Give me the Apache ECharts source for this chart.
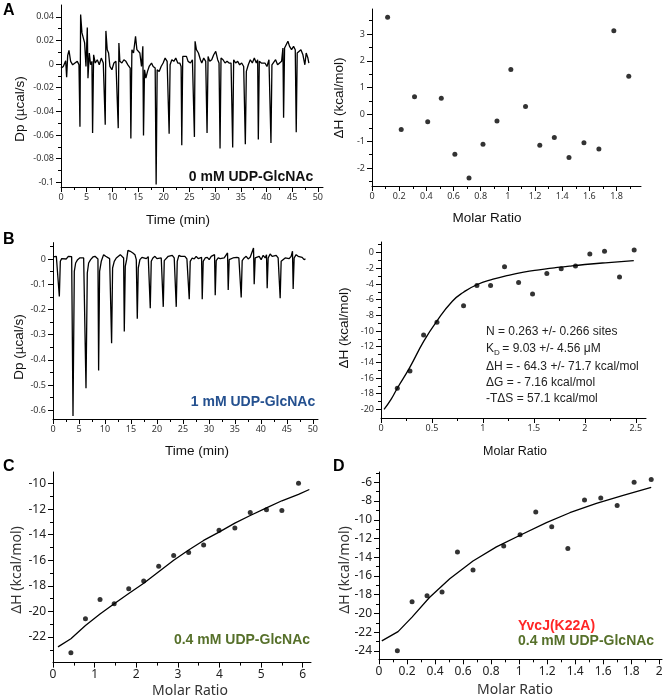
<!DOCTYPE html>
<html><head><meta charset="utf-8">
<script src="https://cdn.jsdelivr.net/npm/echarts@6/dist/echarts.min.js"></script>
<style>html,body{margin:0;padding:0;background:#fff}#c{width:669px;height:700px}</style>
</head><body><div id="c"></div>
<script>
// ---------- DATA ----------
// Panel A (0 mM UDP-GlcNAc): raw thermogram [time (min), Dp (µcal/s)]
const aTrace = [[0,-0.0034],[0.45,-0.0020],[0.91,0.0028],[1.10,-0.0111],[1.30,0.0071],[1.55,0.0116],[1.88,0.0023],[2.27,-0.0006],[2.72,0.0009],[3.17,0.0023],[3.50,-0.0006],[3.69,-0.0530],[3.82,0.0420],[4.08,0.0264],[4.34,0.0278],[4.60,0.0179],[4.86,-0.0020],[5.12,0.0309],[5.25,-0.0119],[5.51,0.0094],[5.76,-0.0006],[6.02,0.0023],[6.15,-0.0582],[6.35,0.0079],[6.67,0.0009],[7.06,0.0037],[7.45,-0.0006],[7.84,0.0051],[8.23,0.0009],[8.48,0.0023],[8.61,-0.0513],[8.74,0.0281],[9.00,0.0122],[9.26,0.0094],[9.52,-0.0020],[9.91,-0.0048],[10.30,0.0009],[10.69,0.0023],[11.01,0.0037],[11.14,-0.0542],[11.27,0.0179],[11.46,0.0023],[11.85,0.0009],[12.24,0.0037],[12.63,0.0023],[13.02,-0.0006],[13.28,-0.0020],[13.47,-0.0034],[13.60,-0.0630],[13.80,0.0122],[14.12,0.0094],[14.51,0.0235],[14.77,0.0122],[15.09,0.0136],[15.35,0.0094],[15.67,-0.0020],[15.93,0.0150],[16.06,-0.0604],[16.26,-0.0048],[16.52,-0.0119],[16.84,-0.0062],[17.16,-0.0020],[17.62,0.0009],[17.94,-0.0020],[18.33,-0.0034],[18.52,-0.1018],[18.72,-0.0048],[19.11,-0.0062],[19.49,-0.0020],[19.88,0.0009],[20.27,0.0051],[20.66,0.0023],[20.92,0.0009],[21.05,-0.0590],[21.24,-0.0006],[21.57,0.0037],[21.96,0.0023],[22.34,0.0051],[22.73,0.0009],[23.12,0.0009],[23.38,-0.0020],[23.51,-0.0687],[23.70,0.0065],[24.03,0.0051],[24.42,0.0065],[24.74,0.0023],[25.19,0.0009],[25.58,0.0037],[25.84,0.0023],[25.97,-0.0616],[26.10,0.0193],[26.36,0.0122],[26.75,0.0094],[27.14,0.0037],[27.40,0.0009],[27.78,0.0051],[28.17,0.0023],[28.43,-0.0582],[28.63,0.0065],[28.95,0.0023],[29.34,0.0037],[29.73,0.0079],[30.12,0.0108],[30.50,0.0037],[30.76,0.0009],[30.96,-0.0715],[31.15,0.0051],[31.54,0.0037],[31.93,0.0009],[32.32,0.0023],[32.71,0.0009],[33.10,0.0009],[33.29,0.0023],[33.42,-0.0706],[33.61,0.0037],[34.00,0.0009],[34.39,0.0023],[34.78,-0.0006],[35.17,0.0009],[35.56,-0.0020],[35.75,-0.0006],[35.88,-0.0678],[36.08,-0.0062],[36.46,-0.0006],[36.85,0.0037],[37.24,0.0009],[37.63,0.0051],[38.02,0.0009],[38.28,0.0037],[38.41,-0.0638],[38.60,0.0023],[38.99,0.0009],[39.31,-0.0006],[39.70,0.0009],[40.09,-0.0020],[40.48,0.0037],[40.74,0.0037],[40.87,-0.0667],[41.06,-0.0006],[41.39,0.0009],[41.77,0.0037],[42.16,-0.0006],[42.55,0.0009],[42.94,0.0023],[43.20,0.0136],[43.33,-0.0454],[43.52,0.0136],[43.85,0.0150],[44.17,0.0193],[44.49,0.0150],[44.88,0.0122],[45.27,0.0150],[45.60,0.0122],[45.79,-0.0576],[45.98,0.0094],[46.31,0.0094],[46.70,0.0122],[47.09,0.0079],[47.47,-0.0006],[47.73,0.0094],[48.06,0.0051],[48.25,0.0009]];
// Panel A: integrated heats [molar ratio, ΔH kcal/mol]
const aHeats = [[0.115,3.62],[0.215,-0.56],[0.313,0.66],[0.41,-0.27],[0.51,0.6],[0.61,-1.49],[0.714,-2.37],[0.817,-1.11],[0.92,-0.25],[1.022,1.67],[1.13,0.29],[1.235,-1.15],[1.342,-0.86],[1.45,-1.61],[1.56,-1.06],[1.67,-1.29],[1.78,3.12],[1.89,1.42]];

// Panel B (1 mM UDP-GlcNAc): raw thermogram
const bTrace = [[0,0.008],[0.32,0.004],[0.64,0.0106],[0.96,0.004],[1.22,-0.149],[1.41,-0.0093],[1.67,0.0013],[2.05,0.0066],[2.56,0],[2.95,0.0106],[3.33,0.0066],[3.59,0.0093],[3.72,0.0172],[3.85,-0.623],[4.10,-0.0491],[4.36,-0.0159],[4.74,-0.0027],[5.13,0.004],[5.51,0.0066],[5.90,0.004],[6.15,-0.0027],[6.35,-0.513],[6.60,-0.0557],[6.86,-0.0159],[7.24,-0.0027],[7.69,0.008],[8.08,0.0106],[8.46,0.004],[8.65,0],[8.78,-0.443],[8.97,-0.0491],[9.29,-0.0093],[9.74,0.0172],[10.13,0.0106],[10.51,0.0106],[10.90,0.0013],[11.15,-0.0027],[11.28,-0.334],[11.47,-0.0358],[11.79,-0.0093],[12.18,0.004],[12.56,0.0106],[12.95,0.0172],[13.33,0.0133],[13.59,0.004],[13.72,-0.288],[13.91,-0.0292],[14.17,-0.0027],[14.42,0.0345],[14.87,0.0305],[15.38,0.0239],[15.77,0.0172],[16.03,-0.0027],[16.22,-0.237],[16.41,-0.0358],[16.73,-0.0027],[17.12,0.0066],[17.50,0.0106],[17.95,0.0013],[18.33,0.0093],[18.59,0.0172],[18.72,-0.195],[18.91,-0.0093],[19.23,0.004],[19.62,0.0106],[20.00,0.0013],[20.38,0.0066],[20.83,0.004],[21.09,0.0093],[21.22,-0.19],[21.41,-0.0066],[21.79,0.0013],[22.18,0.0106],[22.56,0.004],[22.95,0.0146],[23.33,0.004],[23.59,0.0066],[23.72,-0.19],[23.91,-0.0093],[24.23,0.0146],[24.62,0.0106],[25.00,0.004],[25.38,0.0106],[25.77,0],[26.09,0.0066],[26.22,-0.16],[26.41,-0.0093],[26.79,0.004],[27.18,0],[27.56,0.0106],[27.95,0.0013],[28.33,0.004],[28.59,0.0066],[28.72,-0.16],[28.91,-0.0093],[29.29,0.004],[29.68,0.0066],[30.06,-0.0027],[30.45,0.0106],[30.83,0.004],[31.09,0.0172],[31.22,-0.144],[31.41,-0.0066],[31.79,0.004],[32.18,0.0013],[32.56,-0.0027],[32.95,0.004],[33.33,0.0013],[33.59,0.0239],[33.72,-0.123],[33.91,-0.0027],[34.29,0],[34.62,0.004],[35.00,-0.0027],[35.38,0.0066],[35.77,0.004],[36.09,0.0106],[36.22,-0.153],[36.41,-0.0066],[36.79,0.004],[37.18,0.0106],[37.56,0],[37.95,0.0066],[38.33,0.004],[38.59,0.0438],[38.72,-0.1],[38.91,0.004],[39.29,0.0066],[39.68,0.0106],[40.06,-0.0027],[40.45,0.0146],[40.83,0.004],[41.09,0.0172],[41.22,-0.116],[41.41,0.004],[41.79,0.0199],[42.18,0.0106],[42.56,0.0066],[42.95,0.0146],[43.33,0.004],[43.59,0],[43.72,-0.156],[43.91,-0.0093],[44.29,-0.0027],[44.68,0.004],[45.06,-0.0027],[45.45,0.0013],[45.83,0.0106],[46.09,0.0305],[46.22,-0.119],[46.41,0.004],[46.79,0.0172],[47.18,0.0106],[47.56,0.004],[47.95,0.0066],[48.33,-0.0027],[48.59,0.0013]];
const bHeats = [[0.16,-17.3],[0.284,-15.1],[0.418,-10.5],[0.549,-8.9],[0.81,-6.77],[0.941,-4.2],[1.075,-4.2],[1.212,-1.8],[1.35,-3.81],[1.487,-5.27],[1.627,-2.66],[1.768,-2.06],[1.908,-1.71],[2.049,-0.17],[2.193,0.17],[2.34,-3.13],[2.484,0.34]];
const bFit = [[0.03,-20.0],[0.1,-18.7],[0.16,-17.3],[0.28,-14.7],[0.42,-11.3],[0.55,-8.7],[0.7,-6.2],[0.81,-5.05],[0.94,-4.1],[1.1,-3.4],[1.25,-2.9],[1.4,-2.5],[1.55,-2.2],[1.7,-1.95],[1.85,-1.72],[2.0,-1.52],[2.2,-1.3],[2.48,-1.03]];
const bParams = ['N = 0.263 +/- 0.266 sites', ' = 9.03 +/- 4.56 \u03bcM', '\u0394H = - 64.3 +/- 71.7 kcal/mol', '\u0394G = - 7.16 kcal/mol', '-T\u0394S = 57.1 kcal/mol'];

// Panel C (0.4 mM UDP-GlcNAc)
const cHeats = [[0.43,-23.23],[0.78,-20.57],[1.13,-19.06],[1.47,-19.4],[1.82,-18.22],[2.18,-17.62],[2.54,-16.47],[2.9,-15.63],[3.26,-15.4],[3.62,-14.8],[3.99,-13.65],[4.37,-13.47],[4.74,-12.27],[5.13,-12.06],[5.5,-12.11],[5.9,-9.97]];
const cFit = [[0.12,-22.77],[0.43,-22.13],[0.78,-21.1],[1.13,-20.2],[1.47,-19.4],[1.82,-18.6],[2.18,-17.8],[2.54,-16.9],[2.9,-16.0],[3.26,-15.2],[3.62,-14.45],[3.99,-13.8],[4.37,-13.1],[4.74,-12.5],[5.13,-11.9],[5.5,-11.35],[5.9,-10.85],[6.16,-10.47]];

// Panel D (YvcJ(K22A), 0.4 mM UDP-GlcNAc)
const dHeats = [[0.131,-24.0],[0.236,-18.76],[0.343,-18.12],[0.45,-17.72],[0.56,-13.45],[0.671,-15.37],[0.89,-12.8],[1.007,-11.6],[1.119,-9.17],[1.233,-10.74],[1.348,-13.06],[1.467,-7.89],[1.583,-7.67],[1.7,-8.49],[1.821,-6.0],[1.943,-5.71]];
const dFit = [[0.02,-22.93],[0.136,-21.95],[0.236,-20.4],[0.36,-18.3],[0.505,-16.3],[0.671,-14.4],[0.838,-12.9],[1.007,-11.65],[1.195,-10.3],[1.362,-9.25],[1.552,-8.25],[1.743,-7.4],[1.943,-6.55]];

// Tick values
const timeTicks = [0,5,10,15,20,25,30,35,40,45,50];
const timeMinor = [2.5,7.5,12.5,17.5,22.5,27.5,32.5,37.5,42.5,47.5];
const aDpTicks = [0.04,0.02,0,-0.02,-0.04,-0.06,-0.08,-0.1];
const aDpMinor = [0.03,0.01,-0.01,-0.03,-0.05,-0.07,-0.09];
const aRatioTicks = [0,0.2,0.4,0.6,0.8,1,1.2,1.4,1.6,1.8];
const aRatioMinor = [0.1,0.3,0.5,0.7,0.9,1.1,1.3,1.5,1.7,1.9];
const aHeatTicks = [-2,-1,0,1,2,3];
const aHeatMinor = [-2.5,-1.5,-0.5,0.5,1.5,2.5,3.5];
const bDpTicks = [0,-0.1,-0.2,-0.3,-0.4,-0.5,-0.6];
const bDpMinor = [0.05,-0.05,-0.15,-0.25,-0.35,-0.45,-0.55];
const bRatioTicks = [0,0.5,1,1.5,2,2.5];
const bRatioMinor = [0.25,0.75,1.25,1.75,2.25];
const bHeatTicks = [0,-2,-4,-6,-8,-10,-12,-14,-16,-18,-20];
const bHeatMinor = [1,-1,-3,-5,-7,-9,-11,-13,-15,-17,-19];
const cRatioTicks = [0,1,2,3,4,5,6];
const cRatioMinor = [0.5,1.5,2.5,3.5,4.5,5.5];
const cHeatTicks = [-22,-20,-18,-16,-14,-12,-10];
const cHeatMinor = [-23,-21,-19,-17,-15,-13,-11];
const dRatioTicks = [0,0.2,0.4,0.6,0.8,1,1.2,1.4,1.6,1.8,2];
const dRatioMinor = [0.1,0.3,0.5,0.7,0.9,1.1,1.3,1.5,1.7,1.9];
const dHeatTicks = [-24,-22,-20,-18,-16,-14,-12,-10,-8,-6];
const dHeatMinor = [-23,-21,-19,-17,-15,-13,-11,-9,-7,-5];

// ---------- CHART ----------
const chart = echarts.init(document.getElementById('c'), null, {renderer:'canvas', width:669, height:700});
const fmt = v => String(Math.round(v*1000)/1000);
const grids = [
  {left:61, top:5, width:262, height:182},
  {left:372, top:9, width:269, height:177},
  {left:53, top:242.6, width:265, height:176.4},
  {left:381, top:242, width:265, height:176},
  {left:53, top:472, width:258, height:190.6},
  {left:379, top:472, width:283, height:187.3}
];
const smallLbl = {fontSize:9, color:'#333', fontFamily:'Noto Sans'};
const bigLbl = {fontSize:12, color:'#222', fontFamily:'Noto Sans'};
const spec = [
  {x:[0,51,timeTicks,timeMinor], y:[-0.104,0.05,aDpTicks,aDpMinor], lbl:smallLbl},
  {x:[0,1.98,aRatioTicks,aRatioMinor], y:[-2.67,3.93,aHeatTicks,aHeatMinor], lbl:smallLbl},
  {x:[0,51,timeTicks,timeMinor], y:[-0.635,0.065,bDpTicks,bDpMinor], lbl:smallLbl},
  {x:[0,2.6,bRatioTicks,bRatioMinor], y:[-21.1,1.35,bHeatTicks,bHeatMinor], lbl:smallLbl},
  {x:[0,6.2,cRatioTicks,cRatioMinor], y:[-24,-9.1,cHeatTicks,cHeatMinor], lbl:bigLbl},
  {x:[0,2.02,dRatioTicks,dRatioMinor], y:[-24.9,-4.9,dHeatTicks,dHeatMinor], lbl:bigLbl}
];
const xAxes = [], yAxes = [];
function mk(dim, g, s, lbl) {
  const pos = dim === 'x' ? 'bottom' : 'left';
  const major = {type:'value', gridIndex:g, min:s[0], max:s[1], position:pos,
    axisLine:{show:true, onZero:false, lineStyle:{color:'#000', width:1}},
    axisTick:{show:true, inside:false, length:5, customValues:s[2], lineStyle:{color:'#000', width:1}},
    axisLabel:Object.assign({show:true, customValues:s[2], formatter:fmt, margin: dim==='x'?6:7}, lbl),
    splitLine:{show:false}};
  const minor = {type:'value', gridIndex:g, min:s[0], max:s[1], position:pos,
    axisLine:{show:false, onZero:false},
    axisTick:{show:true, inside:false, length:3, customValues:s[3], lineStyle:{color:'#000', width:1}},
    axisLabel:{show:false}, splitLine:{show:false}};
  return [major, minor];
}
spec.forEach((s, g) => {
  xAxes.push(...mk('x', g, s.x, s.lbl));
  yAxes.push(...mk('y', g, s.y, s.lbl));
});
const ax = g => ({xAxisIndex:2*g, yAxisIndex:2*g});
const trace = (g, d) => Object.assign({type:'line', data:d, symbol:'none', smooth:false, lineStyle:{color:'#000', width:1.3}, z:3}, ax(g));
const dots = (g, d) => Object.assign({type:'scatter', data:d, symbol:'circle', symbolSize:5, itemStyle:{color:'#000'}, z:4}, ax(g));
const fit = (g, d, sm) => Object.assign({type:'line', data:d, symbol:'none', smooth:sm, lineStyle:{color:'#000', width:1.3}, z:3}, ax(g));

const T = (text, x, y, font, fill, align, rot) => ({type:'text', x:x, y:y, rotation:rot||0, z:10,
  style:{text:text, font:font, fill:fill, textAlign:align||'center', textVerticalAlign:'middle', align:align||'center', verticalAlign:'middle'}});
const R90 = Math.PI/2;
const titleAB = '13.5px "Liberation Sans"';
const titleCD = '14px "Noto Sans"';
const panelF = 'bold 16px "Liberation Sans"';
const annF = 'bold 14px "Liberation Sans"';
const parF = '12px "Liberation Sans"';
const graphic = [
  T('A', 3, 11, panelF, '#000', 'left'),
  T('B', 3, 240, panelF, '#000', 'left'),
  T('C', 3, 467, panelF, '#000', 'left'),
  T('D', 333, 467, panelF, '#000', 'left'),
  T('Dp (\u00b5cal/s)', 20, 109, titleAB, '#111', 'center', R90),
  T('Time (min)', 178, 220, titleAB, '#111'),
  T('\u0394H (kcal/mol)', 339, 98, titleAB, '#111', 'center', R90),
  T('Molar Ratio', 487, 218, titleAB, '#111'),
  T('Dp (\u00b5cal/s)', 19, 347, titleAB, '#111', 'center', R90),
  T('Time (min)', 197, 451, titleAB, '#111'),
  T('\u0394H (kcal/mol)', 344, 328, titleAB, '#111', 'center', R90),
  T('Molar Ratio', 515, 452, '12.5px "Liberation Sans"', '#111'),
  T('\u0394H (kcal/mol)', 17, 570, titleCD, '#333', 'center', R90),
  T('Molar Ratio', 190, 691, titleCD, '#333'),
  T('\u0394H (kcal/mol)', 345, 570, titleCD, '#333', 'center', R90),
  T('Molar Ratio', 515, 690, titleCD, '#333'),
  T('0 mM UDP-GlcNAc', 251, 177, annF, '#111'),
  T('1 mM UDP-GlcNAc', 253, 402, annF, '#24508f'),
  T('0.4 mM UDP-GlcNAc', 242, 640, annF, '#56702a'),
  T('YvcJ(K22A)', 518, 626, annF, '#ff2626', 'left'),
  T('0.4 mM UDP-GlcNAc', 518, 641, annF, '#56702a', 'left'),
  T(bParams[0], 486, 332, parF, '#222', 'left'),
  T('K', 486, 349, parF, '#222', 'left'),
  T('D', 494, 353, '8px "Liberation Sans"', '#222', 'left'),
  T(bParams[1], 499, 349, parF, '#222', 'left'),
  T(bParams[2], 486, 366.5, parF, '#222', 'left'),
  T(bParams[3], 486, 382.5, parF, '#222', 'left'),
  T(bParams[4], 486, 399, parF, '#222', 'left')
];

chart.setOption({
  animation:false,
  backgroundColor:'#fff',
  grid:grids,
  xAxis:xAxes,
  yAxis:yAxes,
  series:[
    trace(0, aTrace),
    dots(1, aHeats),
    trace(2, bTrace),
    fit(3, bFit, true),
    dots(3, bHeats),
    fit(4, cFit, false),
    dots(4, cHeats),
    fit(5, dFit, false),
    dots(5, dHeats)
  ],
  graphic:graphic
});
</script></body></html>
